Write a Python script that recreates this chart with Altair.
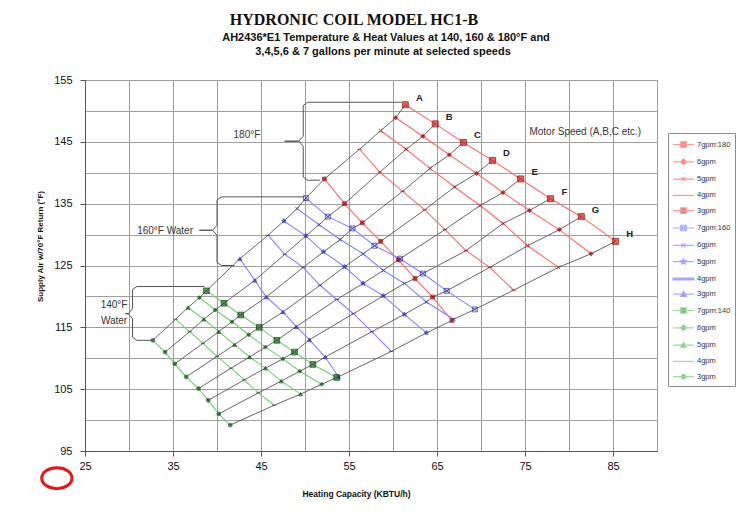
import altair as alt
import pandas as pd

TITLE = "HYDRONIC COIL MODEL HC1-B"
SUBTITLE_1 = "AH2436*E1 Temperature & Heat Values at 140, 160 & 180°F and"
SUBTITLE_2 = "3,4,5,6 & 7 gallons per minute at selected speeds"
X_TITLE = "Heating Capacity (KBTU/h)"
Y_TITLE = "Supply Air w/70°F Return (°F)"
SPEED_NOTE = "Motor Speed (A,B,C etc.)"

SPEEDS = ["A", "B", "C", "D", "E", "F", "G", "H"]
GPM = [7, 6, 5, 4, 3]
TEMPS = [180, 160, 140]

# Heating capacity (KBTU/h): rows = 7, 6, 5, 4, 3 gpm; columns = speeds A..H
CAP_180 = [
    [61.4, 64.8, 68.0, 71.3, 74.5, 77.9, 81.4, 85.3],
    [60.3, 63.4, 66.4, 69.5, 72.5, 75.5, 78.9, 82.5],
    [58.6, 61.5, 64.2, 67.0, 69.9, 72.5, 75.3, 78.8],
    [56.2, 58.5, 61.1, 63.6, 65.9, 68.3, 71.0, 73.7],
    [52.2, 54.5, 56.5, 58.6, 60.6, 62.5, 64.5, 66.7],
]
AIR_180 = [
    [151.0, 147.9, 144.9, 142.0, 139.0, 135.8, 132.9, 128.9],
    [148.9, 145.9, 142.9, 139.9, 136.8, 133.9, 130.8, 126.9],
    [146.8, 143.8, 140.7, 137.7, 134.7, 131.8, 128.2, 124.7],
    [143.8, 140.1, 137.0, 134.0, 130.8, 127.4, 124.7, 121.0],
    [139.0, 135.0, 131.9, 128.9, 125.9, 122.9, 119.9, 116.1],
]
CAP_160 = [
    [50.1, 52.6, 55.4, 57.9, 60.8, 63.4, 66.1, 69.3],
    [49.1, 51.6, 54.0, 56.6, 58.9, 61.3, 63.8, 66.9],
    [47.6, 50.1, 52.1, 54.5, 56.6, 58.9, 61.3, 63.8],
    [45.8, 47.7, 49.8, 51.7, 53.6, 55.5, 57.6, 59.8],
    [42.6, 44.3, 45.6, 47.5, 49.0, 50.5, 52.3, 53.8],
]
AIR_160 = [
    [135.9, 132.9, 131.0, 128.2, 126.1, 123.7, 120.9, 117.9],
    [134.2, 131.6, 129.2, 126.9, 124.2, 122.1, 119.1, 116.3],
    [132.2, 129.8, 127.2, 124.8, 122.1, 120.1, 117.1, 114.1],
    [129.9, 126.8, 124.7, 121.8, 119.5, 117.2, 114.3, 111.1],
    [126.1, 122.6, 119.9, 117.5, 115.1, 113.0, 110.2, 107.0],
]
CAP_140 = [
    [38.8, 40.8, 42.7, 44.8, 46.8, 48.8, 50.9, 53.6],
    [38.0, 39.8, 41.7, 43.6, 45.5, 47.5, 49.4, 51.9],
    [36.7, 38.5, 40.2, 42.0, 43.7, 45.5, 47.3, 49.5],
    [35.3, 36.9, 38.4, 40.0, 41.6, 43.1, 44.7, 46.5],
    [32.7, 34.1, 35.2, 36.5, 37.9, 39.0, 40.2, 41.5],
]
AIR_140 = [
    [120.9, 118.9, 117.0, 115.0, 112.9, 111.0, 109.0, 106.9],
    [119.8, 117.8, 115.9, 113.8, 111.8, 109.9, 107.9, 105.8],
    [118.2, 116.3, 114.3, 112.2, 110.2, 108.4, 106.3, 104.2],
    [116.3, 114.3, 112.4, 110.3, 108.4, 106.5, 104.4, 102.4],
    [112.9, 111.0, 109.1, 107.0, 105.1, 103.2, 101.0, 99.2],
]

# Water-temperature braces (data units): spine x, top, bottom, tip y, tip x, top end, bottom end
BRACE_X = [49.8, 40.0, 30.4]
BRACE_TOP = [151.4, 136.1, 121.6]
BRACE_BOTTOM = [138.8, 125.0, 112.9]
BRACE_TIP = [145.1, 130.7, 117.2]
BRACE_TIP_X = [47.7, 38.0, 29.6]
BRACE_TOP_END = [61.0, 49.9, 38.6]
BRACE_BOTTOM_END = [51.7, 42.0, 32.7]

WATER_LABELS = ["180°F", "160°F Water", "140°F", "Water"]
WATER_X = [43.4, 34.1, 28.3, 28.3]
WATER_Y = [146.1, 130.6, 118.6, 116.1]

NOTE_X = [75.5]
NOTE_Y = [146.6]

RING_X = [21.8]
RING_Y = [90.6]

# ---- styling -------------------------------------------------------------
LINE_COLOR = {180: "#ff6a6a", 160: "#8484ff", 140: "#72cc72"}
MARK_COLOR = {180: "#a80000", 160: "#2a2ab8", 140: "#0b520b"}

XSQ = "M-1,-1H1V1H-1ZM-1,-1L1,1M-1,1L1,-1"
XMARK = "M-1,-1L1,1M-1,1L1,-1"
STAR = ("M0,-1L0.29,-0.4L0.95,-0.31L0.48,0.15L0.59,0.81L0,0.5L-0.59,0.81"
        "L-0.48,0.15L-0.95,-0.31L-0.29,-0.4Z")

# per temperature: (shape, size, fill, stroke) for gpm 7, 6, 5, 4, 3
MARKERS = {
    180: [("square", 36, "#e81818", "#7a0000"), ("diamond", 18, "#a80000", "#a80000"),
          (XMARK, 14, "transparent", "#a80000"), ("stroke", 20, "#a80000", "#a80000"),
          ("square", 14, "#a80000", "#a80000")],
    160: [(XSQ, 24, "transparent", "#2a2ab8"), (XMARK, 12, "transparent", "#2a2ab8"),
          (STAR, 22, "#2a2ab8", "#2a2ab8"), ("stroke", 18, "#2a2ab8", "#2a2ab8"),
          ("triangle-up", 16, "#2a2ab8", "#2a2ab8")],
    140: [("square", 32, "#0f6a0f", "#043004"), ("diamond", 16, "#0b520b", "#0b520b"),
          ("triangle-up", 16, "#0b520b", "#0b520b"), ("stroke", 16, "#0b520b", "#0b520b"),
          ("circle", 14, "#0b520b", "#0b520b")],
}

# legend glyphs: short line with the series marker in the middle
LEG_LINE = "M-1.6,0H1.6"
LEG_GLYPH = {
    "square": "M-0.42,-0.42H0.42V0.42H-0.42Z",
    "diamond": "M0,-0.45L0.45,0L0,0.45L-0.45,0Z",
    "x": "M-0.3,-0.3L0.3,0.3M-0.3,0.3L0.3,-0.3",
    "none": "",
    "bar": "M-1.6,-0.14H1.6V0.14H-1.6Z",
    "xsq": "M-0.42,-0.42H0.42V0.42H-0.42ZM-0.42,-0.42L0.42,0.42M-0.42,0.42L0.42,-0.42",
    "star": ("M0,-0.45L0.13,-0.18L0.43,-0.14L0.22,0.07L0.27,0.36L0,0.22L-0.27,0.36"
             "L-0.22,0.07L-0.43,-0.14L-0.13,-0.18Z"),
    "tri": "M0,-0.42L0.42,0.32L-0.42,0.32Z",
    "circle": "M-0.32,0A0.32,0.32 0 1,0 0.32,0A0.32,0.32 0 1,0 -0.32,0Z",
}
LEG_KIND = {
    180: ["square", "diamond", "x", "none", "square"],
    160: ["xsq", "x", "star", "bar", "tri"],
    140: ["square", "diamond", "tri", "none", "circle"],
}

# ---- tables --------------------------------------------------------------
rows = []
for temp, caps, airs in ((180, CAP_180, AIR_180), (160, CAP_160, AIR_160), (140, CAP_140, AIR_140)):
    for gi, gpm in enumerate(GPM):
        shape, size, fill, stroke = MARKERS[temp][gi]
        for si, sp in enumerate(SPEEDS):
            rows.append({
                "temp": temp, "gpm": gpm, "speed": sp,
                "cap": caps[gi][si], "air": airs[gi][si],
                "series": f"{gpm}gpm:{temp}",
                "line": LINE_COLOR[temp],
                "shape": shape, "size": size, "fill": fill, "stroke": stroke,
            })
df = pd.DataFrame(rows)
top_row = df[(df.temp == 180) & (df.gpm == 7)]

brace_rows = []
for b in range(3):
    x, t, bt = BRACE_X[b], BRACE_TOP[b], BRACE_BOTTOM[b]
    tip, tx = BRACE_TIP[b], BRACE_TIP_X[b]
    pts = [(BRACE_TOP_END[b], t), (x + 0.5, t), (x, t - 0.5), (x, tip + 0.8),
           (x - 0.5, tip), (tx, tip), (x - 0.5, tip), (x, tip - 0.8),
           (x, bt + 0.5), (x + 0.5, bt), (BRACE_BOTTOM_END[b], bt)]
    for i, (px, py) in enumerate(pts):
        brace_rows.append({"brace": b, "i": i, "cap": px, "air": py})
braces_df = pd.DataFrame(brace_rows)

water_df = pd.DataFrame({"cap": WATER_X, "air": WATER_Y, "label": WATER_LABELS})
note_df = pd.DataFrame({"cap": NOTE_X, "air": NOTE_Y, "label": [SPEED_NOTE]})
ring_df = pd.DataFrame({"cap": RING_X, "air": RING_Y})

legend_keys = [f"{g}gpm:{t}" for t in TEMPS for g in GPM]
leg_stroke, leg_fill, leg_shape = [], [], []
for t in TEMPS:
    for gi in range(len(GPM)):
        kind = LEG_KIND[t][gi]
        leg_stroke.append(LINE_COLOR[t])
        if kind == "bar":
            leg_fill.append(LINE_COLOR[t])
        elif kind in ("xsq", "x"):
            leg_fill.append("white")
        else:
            leg_fill.append(MARKERS[t][gi][2] if MARKERS[t][gi][2] != "transparent" else MARK_COLOR[t])
        leg_shape.append(LEG_LINE + LEG_GLYPH[kind])
leg_df = pd.DataFrame({"series": legend_keys})

# ---- scales & axes -------------------------------------------------------
FONT = "Liberation Sans"
XS = alt.Scale(domain=[25, 90], nice=False, zero=False)
YS = alt.Scale(domain=[95, 155], nice=False, zero=False)
TICK_OP = {"condition": {"test": "datum.value % 10 == 5", "value": 1}, "value": 0}
XA = alt.Axis(
    values=list(range(25, 91, 5)), labelExpr="datum.value % 10 == 5 ? datum.label : ''",
    grid=True, gridColor="#9f9f9f", gridWidth=1, domainColor="#555", tickColor="#555",
    tickSize=5, tickOpacity=TICK_OP, labelFont=FONT, labelFontSize=11, labelColor="#111",
    labelPadding=4, labelFlush=False, title=X_TITLE, titleFont=FONT, titleFontSize=8.5,
    titleFontWeight="bold", titleColor="#111", titleX=271, titleY=42,
    titleAlign="center", titleBaseline="middle",
)
YA = alt.Axis(
    values=list(range(95, 156, 5)), labelExpr="datum.value % 10 == 5 ? datum.label : ''",
    grid=True, gridColor="#9f9f9f", gridWidth=1, domainColor="#555", tickColor="#555",
    tickSize=5, tickOpacity=TICK_OP, labelFont=FONT, labelFontSize=11, labelColor="#111",
    labelPadding=8, labelFlush=False, title=Y_TITLE, titleFont=FONT, titleFontSize=8,
    titleFontWeight="bold", titleColor="#111", titleX=-45, titleY=166,
    titleAlign="center", titleBaseline="middle",
)


def X():
    return alt.X("cap:Q", scale=XS, axis=XA)


def Y():
    return alt.Y("air:Q", scale=YS, axis=YA)


base = alt.Chart(df)

series_lines = base.mark_line(strokeWidth=1.1).encode(
    x=X(), y=Y(), detail="series:N", color=alt.Color("line:N", scale=None),
)

speed_lines = base.mark_line(strokeWidth=1, color="#555555", opacity=0.9).encode(
    x=X(), y=Y(), detail="speed:N",
)

markers = base.mark_point(filled=True, strokeWidth=1).encode(
    x=X(), y=Y(),
    shape=alt.Shape("shape:N", scale=None),
    size=alt.Size("size:Q", scale=None),
    fill=alt.Fill("fill:N", scale=None),
    stroke=alt.Stroke("stroke:N", scale=None),
)

speed_labels = alt.Chart(top_row).mark_text(
    dx=14, dy=-7, font=FONT, fontSize=9.5, fontWeight="bold", color="#222",
).encode(x=X(), y=Y(), text="speed:N")

brace_lines = alt.Chart(braces_df).mark_line(strokeWidth=1, color="#555").encode(
    x=X(), y=Y(), detail="brace:N", order="i:Q",
)

water_text = alt.Chart(water_df).mark_text(font=FONT, fontSize=10, color="#333").encode(
    x=X(), y=Y(), text="label:N",
)

note_text = alt.Chart(note_df).mark_text(font=FONT, fontSize=10, color="#333", align="left").encode(
    x=X(), y=Y(), text="label:N",
)

ring = alt.Chart(ring_df).mark_point(
    shape="M-1.3,0A1.3,0.9 0 1,0 1.3,0A1.3,0.9 0 1,0 -1.3,0Z",
    size=540, filled=False, color="#e8141a", strokeWidth=3, opacity=1,
).encode(x=X(), y=Y())

title_main = alt.Chart(pd.DataFrame({"t": [TITLE]})).mark_text(
    font="Liberation Serif", fontSize=16, fontWeight="bold", color="#111",
).encode(text="t:N", x=alt.value(269), y=alt.value(-60))
title_sub1 = alt.Chart(pd.DataFrame({"t": [SUBTITLE_1]})).mark_text(
    font=FONT, fontSize=11, fontWeight="bold", color="#111",
).encode(text="t:N", x=alt.value(301), y=alt.value(-42))
title_sub2 = alt.Chart(pd.DataFrame({"t": [SUBTITLE_2]})).mark_text(
    font=FONT, fontSize=11, fontWeight="bold", color="#111",
).encode(text="t:N", x=alt.value(298), y=alt.value(-28))

# the legend frame runs on past the right edge of the page, as in the original sheet
LEG = alt.Legend(
    title=None, orient="none", legendX=583, legendY=53, padding=4,
    strokeColor="#8a8a8a", fillColor="white", symbolSize=170, symbolOffset=4,
    symbolStrokeWidth=1.2, labelFont=FONT, labelFontSize=7.5, labelColor="#333",
    labelOffset=6, rowPadding=4.3,
    labelExpr=("datum.label[0] == '7' ? datum.label + '\u00a0\u00a0\u00a0\u00a0\u00a0\u00a0' "
               ": substring(datum.label, 0, 4)"),
)
legend_layer = alt.Chart(leg_df).mark_point(opacity=0, filled=True).encode(
    stroke=alt.Stroke("series:N", scale=alt.Scale(domain=legend_keys, range=leg_stroke), legend=LEG),
    fill=alt.Fill("series:N", scale=alt.Scale(domain=legend_keys, range=leg_fill), legend=LEG),
    shape=alt.Shape("series:N", scale=alt.Scale(domain=legend_keys, range=leg_shape), legend=LEG),
)

chart = alt.layer(
    series_lines, speed_lines, markers, speed_labels, brace_lines, water_text,
    note_text, ring, title_main, title_sub1, title_sub2, legend_layer,
).properties(
    width=572, height=371,
    autosize=alt.AutoSizeParams(type="none"),
    padding={"left": 85, "top": 80, "right": 92, "bottom": 55},
    background="white",
).configure_view(stroke="#7a7a7a")

chart.save("out.html", embed_options={"renderer": "svg", "actions": False})
